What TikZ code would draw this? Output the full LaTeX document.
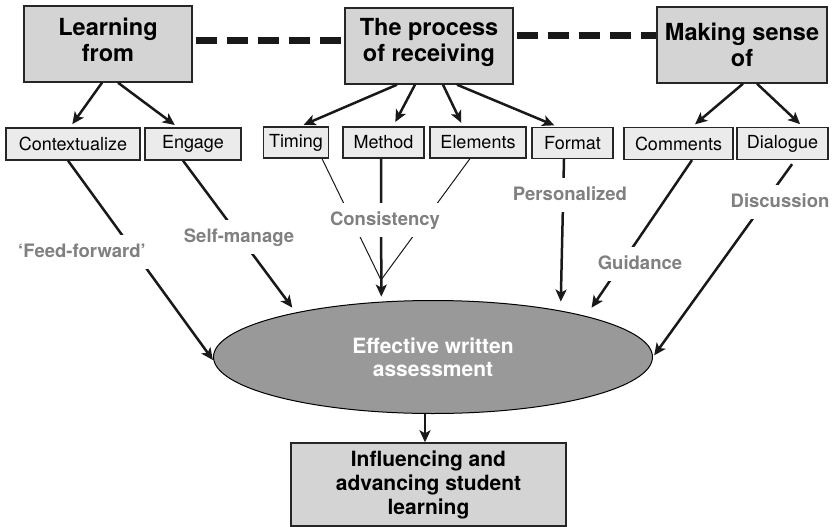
\documentclass[tikz,border=0pt]{standalone}
\usepackage{fontspec}
\setmainfont{TeX Gyre Heros}
\usetikzlibrary{shapes,arrows.meta}

\begin{document}
\begin{tikzpicture}[x=1pt,y=-1pt]
	\useasboundingbox (0,0) rectangle (832,527);
	\tikzstyle{theme}=[rectangle,draw=black!85,line width=1.4pt,fill=black!17,
	font=\fontsize{23.5}{26}\selectfont\bfseries,align=center,inner sep=0pt,
	minimum width=168pt,minimum height=76pt]
	\tikzstyle{facet}=[rectangle,draw=black!85,line width=1.2pt,fill=black!8,
	font=\fontsize{18}{20}\selectfont,inner sep=0pt,minimum height=32pt]
	\tikzstyle{quality}=[fill=white,text=black!50,
	font=\fontsize{18.5}{20}\selectfont\bfseries,
	text height=13.5pt,text depth=3.5pt,inner xsep=2pt,inner ysep=8.5pt]

	\node[theme,text depth=8pt] (learn) at (108,44) {Learning\\from};
	\node[theme,text depth=13pt] (proc) at (429,46) {The process\\of receiving};
	\node[theme,minimum width=170pt] (mak) at (742,45) {Making sense\\of};

	\node[facet,minimum width=134pt] (ctx) at (73,144) {Contextualize};
	\node[facet,minimum width=96pt] (eng) at (193,144) {Engage};
	\node[facet,minimum width=65pt,minimum height=31pt] (tim) at (296,142.5) {Timing};
	\node[facet,minimum width=81pt,minimum height=31pt] (meth) at (383.5,142.5) {Method};
	\node[facet,minimum width=96pt,minimum height=31pt] (elem) at (478,142.5) {Elements};
	\node[facet,minimum width=81pt,minimum height=31pt] (fmt) at (572.5,143) {Format};
	\node[facet,minimum width=109pt] (com) at (678.5,143.5) {Comments};
	\node[facet,minimum width=91pt] (dia) at (782.5,143.5) {Dialogue};

	\node[ellipse,draw=black,line width=1pt,fill=black!40,text=white,
	font=\fontsize{21}{23}\selectfont\bfseries,align=center,inner sep=0pt,
	minimum width=439pt,minimum height=113pt] (eff) at (433,357)
	{Effective written\\assessment};
	\node[theme,minimum width=275pt,minimum height=83pt,
	font=\fontsize{21}{24}\selectfont\bfseries] (res) at (428.5,484.5)
	{Influencing and\\advancing student\\learning};

	\coordinate (cjoin) at (381,280);

	\tikzstyle{link}=[line width=7pt,black!90,dash pattern=on 21pt off 10pt,
	dash phase=28pt]
	\tikzstyle{arr}=[-{Stealth[length=12pt,width=11pt,inset=3pt]},
	line width=2.5pt,black!90,shorten >=4pt]
	\tikzstyle{fine}=[line width=1pt,black!90]

	\draw[link] ([yshift=3pt]learn.east) -- ([yshift=5pt]proc.west);
	\draw[link] ([yshift=10.5pt]proc.east) -- ([yshift=9.5pt]mak.west);

	\draw[arr] ([xshift=-6pt]learn.south) -- ([xshift=-3pt]ctx.north);
	\draw[arr] ([xshift=10pt]learn.south) -- ([xshift=-15pt]eng.north);
	\draw[arr] ([xshift=-32pt]proc.south) -- ([xshift=4pt]tim.north);
	\draw[arr,shorten >=5pt] ([xshift=-14pt]proc.south) -- ([xshift=9.5pt]meth.north);
	\draw[arr] ([xshift=14pt]proc.south) -- ([xshift=-15pt]elem.north);
	\draw[arr] ([xshift=28pt]proc.south) -- ([xshift=-14.5pt]fmt.north);
	\draw[arr] ([xshift=1pt]mak.south) -- ([xshift=13.5pt]com.north);
	\draw[arr] ([xshift=15pt]mak.south) -- ([xshift=20.5pt]dia.north);

	\draw[arr,shorten >=1pt] ([xshift=-5pt]ctx.south) -- (eff.181);
	\draw[arr,shorten >=6pt] ([xshift=-10pt]eng.south) -- (eff.162);
	\draw[fine] ([xshift=26pt]tim.south) -- (cjoin);
	\draw[fine] ([xshift=-8pt]elem.south) -- (cjoin);
	\draw[arr,shorten >=5pt] ([xshift=-2.5pt]meth.south) -- (eff.133);
	\draw[arr,shorten >=9pt] ([xshift=-8.5pt]fmt.south) -- (eff.20);
	\draw[arr,shorten >=10pt] ([xshift=13.5pt]com.south) -- (eff.15);
	\draw[arr,shorten >=2pt,shorten <=5pt] ([xshift=12.5pt]dia.south) -- (eff.east);
	\draw[arr,shorten >=0pt] ([xshift=-8pt]eff.south) -- ([xshift=-3.5pt]res.north);

	\node[quality] (ffwd) at (82,252) {‘Feed-forward’};
	\node[quality] (selfm) at (239,237) {Self-manage};
	\node[quality] (cons) at (385,220) {Consistency};
	\node[quality] (pers) at (570,195) {Personalized};
	\node[quality] (guid) at (640,264) {Guidance};
	\node[quality] (disc) at (780,202) {Discussion};
\end{tikzpicture}
\end{document}
